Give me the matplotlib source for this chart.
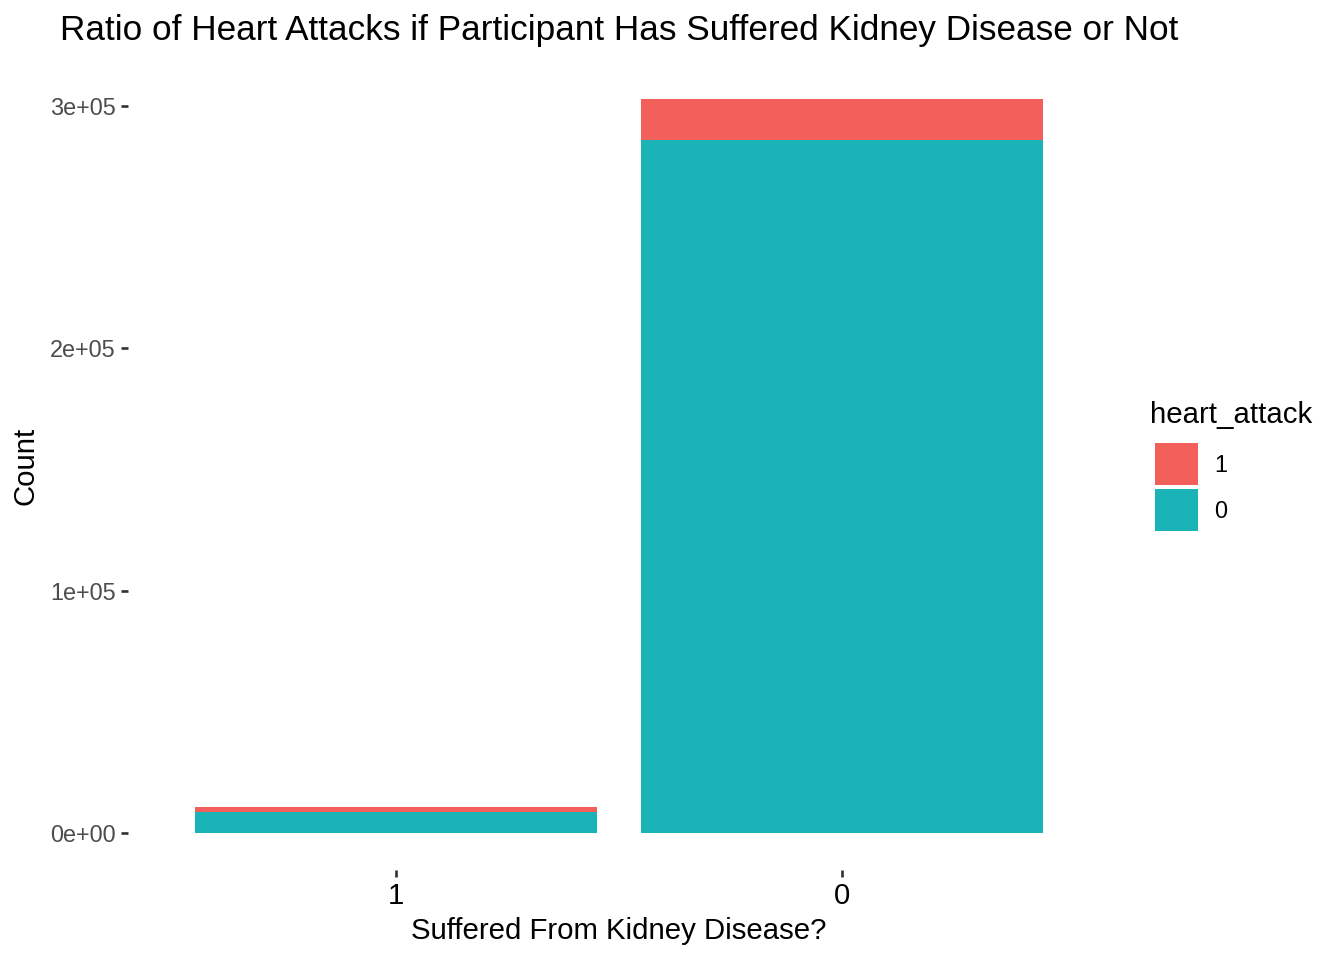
import matplotlib.pyplot as plt
from matplotlib.patches import Rectangle
from matplotlib.ticker import FuncFormatter

plt.rcParams['font.family'] = ['Liberation Sans', 'DejaVu Sans']

# data
kidney = ['1', '0']
no_attack = [8470, 285900]     # heart_attack = 0
had_attack = [2070, 17200]     # heart_attack = 1
red = '#F35F5B'
teal = '#19B3B8'

fig = plt.figure(figsize=(7, 5), dpi=192)
ax = fig.add_axes([0.0955, 0.0941, 0.7301, 0.8415])

x = range(len(kidney))
ax.bar(x, no_attack, width=0.9, color=teal, linewidth=0)
ax.bar(x, had_attack, bottom=no_attack, width=0.9, color=red, linewidth=0)

total = max(a + b for a, b in zip(no_attack, had_attack))
ax.set_ylim(-0.05 * total, 1.05 * total)
ax.set_xlim(-0.6, len(kidney) - 0.4)
ax.set_xticks(list(x))
ax.set_xticklabels(kidney)
ax.set_yticks([0, 100000, 200000, 300000])

def sci(v, pos):
    m, e = f'{v:.0e}'.split('e')
    return f'{m}e{e[0]}{int(e[1:]):02d}'
ax.yaxis.set_major_formatter(FuncFormatter(sci))

for s in ax.spines.values():
    s.set_visible(False)
ax.tick_params(axis='y', length=2.75, width=1.0, color='#333333',
               labelsize=8.8, labelcolor='#4D4D4D', pad=2)
ax.tick_params(axis='x', length=2.75, width=1.0, color='#333333',
               labelsize=11, labelcolor='black', pad=2)

ax.set_xlabel('Suffered From Kidney Disease?', fontsize=11, labelpad=2.5)
ax.set_ylabel('Count', fontsize=11, labelpad=4)
ax.set_title('Ratio of Heart Attacks if Participant Has Suffered Kidney Disease or Not',
             fontsize=13.2, pad=8)

# legend
W, H = 1344, 960
fig.text(1150 / W, 1 - 415 / H, 'heart_attack', fontsize=11, va='center', ha='left')
for i, (lab, col) in enumerate([('1', red), ('0', teal)]):
    y0 = 443 + i * 46
    fig.add_artist(Rectangle((1155 / W, 1 - (y0 + 42) / H), 43 / W, 42 / H,
                             transform=fig.transFigure, color=col, linewidth=0))
    fig.text(1214 / W, 1 - (y0 + 22) / H, lab, fontsize=8.8, va='center', ha='left')

fig.savefig('out.png', dpi=192)
